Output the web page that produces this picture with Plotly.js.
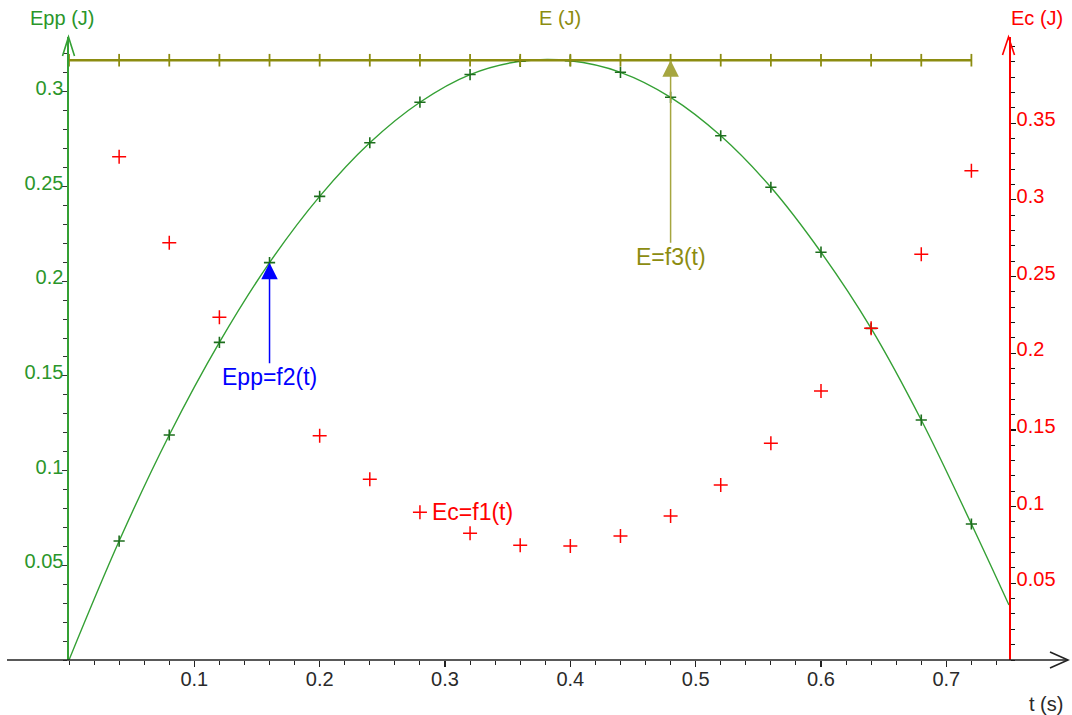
<!DOCTYPE html>
<html>
<head>
<meta charset="utf-8">
<script src="https://cdn.plot.ly/plotly-3.0.1.min.js"></script>
<style>html,body{margin:0;padding:0;background:#fff;}#chart{width:1072px;height:715px;}</style>
</head>
<body>
<div id="chart"></div>
<script>
// ---- data ----
const tSamples = [0.04,0.08,0.12,0.16,0.20,0.24,0.28,0.32,0.36,0.40,0.44,0.48,0.52,0.56,0.60,0.64,0.68,0.72];
const eppValues = [0.0628,0.1188,0.1677,0.2098,0.2448,0.2731,0.2945,0.3091,0.3161,0.3164,0.3103,0.2971,0.2768,0.2496,0.2153,0.1751,0.1267,0.0718];
const ecValues = [0.328,0.272,0.2234,0.181,0.1462,0.1178,0.0963,0.0826,0.0748,0.0743,0.0808,0.0939,0.1141,0.1413,0.1754,0.2162,0.2645,0.319];
const eTimes = [0,0.04,0.08,0.12,0.16,0.20,0.24,0.28,0.32,0.36,0.40,0.44,0.48,0.52,0.56,0.60,0.64,0.68,0.72];
const eValues = [0.391,0.391,0.391,0.391,0.391,0.391,0.391,0.391,0.391,0.391,0.391,0.391,0.391,0.391,0.391,0.391,0.391,0.391,0.391];
const eppCurveStartT = [0];
const eppCurveStartV = [0];
const eppCurveEndT = [0.75];
const eppCurveEndV = [0.029];
const xTickVals = [0.1,0.2,0.3,0.4,0.5,0.6,0.7];
const xTickText = ['0.1','0.2','0.3','0.4','0.5','0.6','0.7'];
const eppTickVals = [0.05,0.1,0.15,0.2,0.25,0.3];
const eppTickText = ['0.05','0.1','0.15','0.2','0.25','0.3'];
const ecTickVals = [0.05,0.1,0.15,0.2,0.25,0.3,0.35];
const ecTickText = ['0.05','0.1','0.15','0.2','0.25','0.3','0.35'];

// ---- styling ----
const FONT = 'Liberation Sans, Arial, sans-serif';
const GREEN = '#34a034', GREEN_TXT = '#2a962a', GREEN_DARK = '#1d6e1d';
const RED = '#ff0000';
const OLIVE = '#8c8c10', OLIVE_LIGHT = '#a6a640';
const BLUE = '#0000ff';
const AXIS = '#222222';

const M = {l: 69, r: 63, t: 37, b: 55};
const W = 1072 - M.l - M.r, H = 715 - M.t - M.b;
const px = x => (x - M.l) / W;
const py = y => (715 - M.b - y) / H;

const curveT = eppCurveStartT.concat(tSamples, eppCurveEndT);
const curveV = eppCurveStartV.concat(eppValues, eppCurveEndV);

const traces = [
  {x: curveT, y: curveV, yaxis: 'y', mode: 'lines', line: {color: GREEN, width: 1.4, shape: 'spline', smoothing: 1}, hoverinfo: 'skip'},
  {x: tSamples, y: eppValues, yaxis: 'y', mode: 'markers', marker: {symbol: 'cross-thin', size: 8, line: {color: GREEN_DARK, width: 1.6}}, hoverinfo: 'skip'},
  {x: eTimes, y: eValues, yaxis: 'y2', mode: 'lines+markers', line: {color: OLIVE, width: 2.6}, marker: {symbol: 'line-ns', size: 9, line: {color: OLIVE, width: 1.8}}, hoverinfo: 'skip'},
  {x: tSamples, y: ecValues, yaxis: 'y2', mode: 'markers', marker: {symbol: 'cross-thin', size: 10, line: {color: RED, width: 1.5}}, hoverinfo: 'skip'}
];

const titleFont = c => ({family: FONT, size: 20, color: c});

const layout = {
  width: 1072, height: 715,
  margin: M,
  paper_bgcolor: '#fff', plot_bgcolor: '#fff',
  showlegend: false,
  hovermode: false,
  font: {family: FONT, size: 20},
  xaxis: {
    range: [0, 0.75], showgrid: false, zeroline: false, showline: false,
    tickmode: 'array', tickvals: xTickVals, ticktext: xTickText,
    ticks: 'outside', ticklen: 6, tickwidth: 1.2, tickcolor: AXIS,
    ticklabelstandoff: -5,
    tickfont: {family: FONT, size: 20, color: '#2a2a2a'},
    minor: {tickmode: 'linear', tick0: 0, dtick: 0.02, ticks: 'outside', ticklen: 4, tickwidth: 1, tickcolor: AXIS}
  },
  yaxis: {
    range: [0, H / 1894], showgrid: false, zeroline: false,
    showline: true, linecolor: GREEN, linewidth: 1.6,
    tickmode: 'array', tickvals: eppTickVals, ticktext: eppTickText,
    ticks: 'outside', ticklen: 5, tickwidth: 1.2, tickcolor: '#333',
    ticklabelstandoff: -5, ticklabelshift: -4,
    tickfont: {family: FONT, size: 20, color: GREEN_TXT},
    minor: {tickmode: 'linear', tick0: 0, dtick: 0.01, ticks: 'outside', ticklen: 4, tickwidth: 1, tickcolor: '#333'}
  },
  yaxis2: {
    range: [0, H / 1534], overlaying: 'y', side: 'right', showgrid: false, zeroline: false,
    showline: true, linecolor: RED, linewidth: 1.6,
    tickmode: 'array', tickvals: ecTickVals, ticktext: ecTickText,
    ticks: 'outside', ticklen: 5, tickwidth: 1.2, tickcolor: '#111',
    ticklabelstandoff: -3, ticklabelshift: -4,
    tickfont: {family: FONT, size: 20, color: RED},
    minor: {tickmode: 'linear', tick0: 0, dtick: 0.01, ticks: 'outside', ticklen: 4, tickwidth: 1, tickcolor: '#111'}
  },
  shapes: [
    {type: 'line', xref: 'paper', yref: 'paper', x0: px(7), x1: px(1068), y0: 0, y1: 0, line: {color: AXIS, width: 1.6}},
    {type: 'path', xref: 'paper', yref: 'paper', path: `M ${px(1050)} ${py(652)} L ${px(1068)} ${py(660)} L ${px(1050)} ${py(668)}`, line: {color: AXIS, width: 1.6}},
    {type: 'path', xref: 'paper', yref: 'paper', path: `M ${px(62.5)} ${py(56)} L ${px(68.5)} ${py(37)} L ${px(74.5)} ${py(56)}`, line: {color: GREEN, width: 1.6}},
    {type: 'path', xref: 'paper', yref: 'paper', path: `M ${px(1002.5)} ${py(55)} L ${px(1008.5)} ${py(37)} L ${px(1014.5)} ${py(55)}`, line: {color: RED, width: 1.6}}
  ],
  annotations: [
    {xref: 'paper', yref: 'paper', x: px(61.5), y: py(18), xanchor: 'center', yanchor: 'middle', text: 'Epp (J)', showarrow: false, font: titleFont(GREEN_TXT)},
    {xref: 'paper', yref: 'paper', x: px(560), y: py(18), xanchor: 'center', yanchor: 'middle', text: 'E (J)', showarrow: false, font: titleFont(OLIVE)},
    {xref: 'paper', yref: 'paper', x: px(1036.5), y: py(18), xanchor: 'center', yanchor: 'middle', text: 'Ec (J)', showarrow: false, font: titleFont(RED)},
    {xref: 'paper', yref: 'paper', x: px(1045.5), y: py(704), xanchor: 'center', yanchor: 'middle', text: 't (s)', showarrow: false, font: titleFont('#2a2a2a')},
    {xref: 'x', yref: 'y', x: tSamples[3], y: eppValues[3], ax: 0, ay: 114, text: 'Epp=f2(t)', showarrow: true,
     arrowhead: 2, arrowsize: 2.2, arrowwidth: 1.5, arrowcolor: BLUE, bgcolor: '#fff', borderpad: 0,
     font: {family: FONT, size: 23, color: BLUE}},
    {xref: 'x', yref: 'y2', x: eTimes[12], y: eValues[12], ax: 0, ay: 197, text: 'E=f3(t)', showarrow: true,
     arrowhead: 2, arrowsize: 2.2, arrowwidth: 1.5, arrowcolor: OLIVE_LIGHT,
     font: {family: FONT, size: 23, color: OLIVE}},
    {xref: 'x', yref: 'y2', x: px(430) * 0.75, y: ecValues[6], xanchor: 'left', text: 'Ec=f1(t)', showarrow: false,
     font: {family: FONT, size: 23, color: RED}}
  ]
};

Plotly.newPlot('chart', traces, layout, {staticPlot: true, displayModeBar: false});
</script>
</body>
</html>
